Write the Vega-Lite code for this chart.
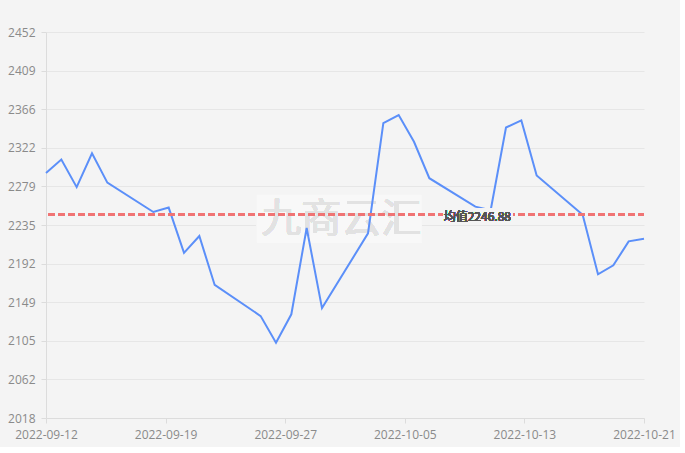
{
  "$schema": "https://vega.github.io/schema/vega-lite/v6.json",
  "width": 598,
  "height": 386,
  "autosize": {"type": "none"},
  "padding": {"left": 46, "top": 32, "right": 36, "bottom": 29},
  "background": "#f4f4f4",
  "config": {
    "view": {"stroke": null},
    "font": "Open Sans",
    "axis": {"labelFont": "Open Sans", "labelFontSize": 12, "labelColor": "#8a8a8a", "domainColor": "#dcdcdc", "tickColor": "#dcdcdc", "gridColor": "#e6e6e6", "title": null}
  },
  "data": {
    "values": [
      {"date": "2022-09-12", "price": 2294},
      {"date": "2022-09-13", "price": 2309},
      {"date": "2022-09-14", "price": 2278},
      {"date": "2022-09-15", "price": 2316},
      {"date": "2022-09-16", "price": 2283},
      {"date": "2022-09-19", "price": 2250},
      {"date": "2022-09-20", "price": 2255},
      {"date": "2022-09-21", "price": 2204},
      {"date": "2022-09-22", "price": 2223},
      {"date": "2022-09-23", "price": 2168},
      {"date": "2022-09-26", "price": 2133},
      {"date": "2022-09-27", "price": 2103},
      {"date": "2022-09-28", "price": 2135},
      {"date": "2022-09-29", "price": 2232},
      {"date": "2022-09-30", "price": 2142},
      {"date": "2022-10-03", "price": 2226},
      {"date": "2022-10-04", "price": 2350},
      {"date": "2022-10-05", "price": 2359},
      {"date": "2022-10-06", "price": 2329},
      {"date": "2022-10-07", "price": 2288},
      {"date": "2022-10-10", "price": 2256},
      {"date": "2022-10-11", "price": 2252},
      {"date": "2022-10-12", "price": 2345},
      {"date": "2022-10-13", "price": 2353},
      {"date": "2022-10-14", "price": 2291},
      {"date": "2022-10-17", "price": 2247},
      {"date": "2022-10-18", "price": 2180},
      {"date": "2022-10-19", "price": 2190},
      {"date": "2022-10-20", "price": 2217},
      {"date": "2022-10-21", "price": 2220}
    ]
  },
  "layer": [
    {
      "mark": {"type": "rect", "fill": "#f8f8f8", "strokeWidth": 0},
      "encoding": {
        "x": {"datum": {"year": 2022, "month": 9, "date": 25, "hours": 18, "utc": true}, "type": "temporal",
          "scale": {"type": "utc", "nice": false, "domain": [
            {"year": 2022, "month": 9, "date": 12, "utc": true},
            {"year": 2022, "month": 10, "date": 21, "utc": true}
          ]},
          "axis": {
            "format": "%Y-%m-%d", "grid": false,
            "tickSize": 5, "labelPadding": 6, "labelFlush": false, "labelOverlap": false,
            "values": [
              {"year": 2022, "month": 9, "date": 12, "utc": true},
              {"year": 2022, "month": 9, "date": 19, "hours": 19, "minutes": 12, "utc": true},
              {"year": 2022, "month": 9, "date": 27, "hours": 14, "minutes": 24, "utc": true},
              {"year": 2022, "month": 10, "date": 5, "hours": 9, "minutes": 36, "utc": true},
              {"year": 2022, "month": 10, "date": 13, "hours": 4, "minutes": 48, "utc": true},
              {"year": 2022, "month": 10, "date": 21, "utc": true}
            ]
          }},
        "x2": {"datum": {"year": 2022, "month": 10, "date": 6, "hours": 12, "utc": true}},
        "y": {"datum": 2269.5, "type": "quantitative", "scale": {"domain": [2018.4, 2452.4], "nice": false, "zero": false},
          "axis": {
            "values": [2018.4, 2061.8, 2105.2, 2148.6, 2192.0, 2235.4, 2278.8, 2322.2, 2365.6, 2409.0, 2452.4],
            "format": ".0f", "tickSize": 5, "labelPadding": 6, "grid": true, "labelFlush": false, "labelOverlap": false
          }},
        "y2": {"datum": 2215.5}
      }
    },
    {
      "mark": {"type": "text", "text": "九商云汇", "fontSize": 40, "color": "#e2e2e2", "align": "center", "baseline": "middle", "font": "Noto Sans CJK SC"},
      "encoding": {
        "x": {"datum": {"year": 2022, "month": 10, "date": 1, "hours": 6, "utc": true}, "type": "temporal",
          "scale": {"type": "utc", "nice": false, "domain": [
            {"year": 2022, "month": 9, "date": 12, "utc": true},
            {"year": 2022, "month": 10, "date": 21, "utc": true}
          ]},
          "axis": {
            "format": "%Y-%m-%d", "grid": false,
            "tickSize": 5, "labelPadding": 6, "labelFlush": false, "labelOverlap": false,
            "values": [
              {"year": 2022, "month": 9, "date": 12, "utc": true},
              {"year": 2022, "month": 9, "date": 19, "hours": 19, "minutes": 12, "utc": true},
              {"year": 2022, "month": 9, "date": 27, "hours": 14, "minutes": 24, "utc": true},
              {"year": 2022, "month": 10, "date": 5, "hours": 9, "minutes": 36, "utc": true},
              {"year": 2022, "month": 10, "date": 13, "hours": 4, "minutes": 48, "utc": true},
              {"year": 2022, "month": 10, "date": 21, "utc": true}
            ]
          }},
        "y": {"datum": 2241, "type": "quantitative", "scale": {"domain": [2018.4, 2452.4], "nice": false, "zero": false},
          "axis": {
            "values": [2018.4, 2061.8, 2105.2, 2148.6, 2192.0, 2235.4, 2278.8, 2322.2, 2365.6, 2409.0, 2452.4],
            "format": ".0f", "tickSize": 5, "labelPadding": 6, "grid": true, "labelFlush": false, "labelOverlap": false
          }}
      }
    },
    {
      "mark": {"type": "line", "color": "#5b8ff9", "strokeWidth": 2},
      "encoding": {
        "x": {
          "field": "date", "type": "temporal",
          "scale": {"type": "utc", "nice": false, "domain": [
            {"year": 2022, "month": 9, "date": 12, "utc": true},
            {"year": 2022, "month": 10, "date": 21, "utc": true}
          ]},
          "axis": {
            "format": "%Y-%m-%d", "grid": false,
            "tickSize": 5, "labelPadding": 6, "labelFlush": false, "labelOverlap": false,
            "values": [
              {"year": 2022, "month": 9, "date": 12, "utc": true},
              {"year": 2022, "month": 9, "date": 19, "hours": 19, "minutes": 12, "utc": true},
              {"year": 2022, "month": 9, "date": 27, "hours": 14, "minutes": 24, "utc": true},
              {"year": 2022, "month": 10, "date": 5, "hours": 9, "minutes": 36, "utc": true},
              {"year": 2022, "month": 10, "date": 13, "hours": 4, "minutes": 48, "utc": true},
              {"year": 2022, "month": 10, "date": 21, "utc": true}
            ]
          }
        },
        "y": {
          "field": "price", "type": "quantitative",
          "scale": {"domain": [2018.4, 2452.4], "nice": false, "zero": false},
          "axis": {
            "values": [2018.4, 2061.8, 2105.2, 2148.6, 2192.0, 2235.4, 2278.8, 2322.2, 2365.6, 2409.0, 2452.4],
            "format": ".0f", "tickSize": 5, "labelPadding": 6, "grid": true, "labelFlush": false, "labelOverlap": false
          }
        }
      }
    },
    {
      "mark": {"type": "rule", "color": "#f07474", "strokeWidth": 2, "strokeDash": [6, 4]},
      "encoding": {
        "y": {"datum": 2246.88, "type": "quantitative", "scale": {"domain": [2018.4, 2452.4], "nice": false, "zero": false},
          "axis": {
            "values": [2018.4, 2061.8, 2105.2, 2148.6, 2192.0, 2235.4, 2278.8, 2322.2, 2365.6, 2409.0, 2452.4],
            "format": ".0f", "tickSize": 5, "labelPadding": 6, "grid": true, "labelFlush": false, "labelOverlap": false
          }},
        "x": {"datum": {"year": 2022, "month": 9, "date": 12, "hours": 4, "utc": true}, "type": "temporal",
          "scale": {"type": "utc", "nice": false, "domain": [
            {"year": 2022, "month": 9, "date": 12, "utc": true},
            {"year": 2022, "month": 10, "date": 21, "utc": true}
          ]},
          "axis": {
            "format": "%Y-%m-%d", "grid": false,
            "tickSize": 5, "labelPadding": 6, "labelFlush": false, "labelOverlap": false,
            "values": [
              {"year": 2022, "month": 9, "date": 12, "utc": true},
              {"year": 2022, "month": 9, "date": 19, "hours": 19, "minutes": 12, "utc": true},
              {"year": 2022, "month": 9, "date": 27, "hours": 14, "minutes": 24, "utc": true},
              {"year": 2022, "month": 10, "date": 5, "hours": 9, "minutes": 36, "utc": true},
              {"year": 2022, "month": 10, "date": 13, "hours": 4, "minutes": 48, "utc": true},
              {"year": 2022, "month": 10, "date": 21, "utc": true}
            ]
          }},
        "x2": {"datum": {"year": 2022, "month": 10, "date": 21, "utc": true}}
      }
    },
    {
      "mark": {"type": "rect", "fill": "#f4f4f4", "strokeWidth": 0},
      "encoding": {
        "x": {"datum": {"year": 2022, "month": 10, "date": 7, "hours": 21, "minutes": 36, "utc": true}, "type": "temporal",
          "scale": {"type": "utc", "nice": false, "domain": [
            {"year": 2022, "month": 9, "date": 12, "utc": true},
            {"year": 2022, "month": 10, "date": 21, "utc": true}
          ]},
          "axis": {
            "format": "%Y-%m-%d", "grid": false,
            "tickSize": 5, "labelPadding": 6, "labelFlush": false, "labelOverlap": false,
            "values": [
              {"year": 2022, "month": 9, "date": 12, "utc": true},
              {"year": 2022, "month": 9, "date": 19, "hours": 19, "minutes": 12, "utc": true},
              {"year": 2022, "month": 9, "date": 27, "hours": 14, "minutes": 24, "utc": true},
              {"year": 2022, "month": 10, "date": 5, "hours": 9, "minutes": 36, "utc": true},
              {"year": 2022, "month": 10, "date": 13, "hours": 4, "minutes": 48, "utc": true},
              {"year": 2022, "month": 10, "date": 21, "utc": true}
            ]
          }},
        "x2": {"datum": {"year": 2022, "month": 10, "date": 12, "hours": 9, "minutes": 36, "utc": true}},
        "y": {"datum": 2254, "type": "quantitative", "scale": {"domain": [2018.4, 2452.4], "nice": false, "zero": false},
          "axis": {
            "values": [2018.4, 2061.8, 2105.2, 2148.6, 2192.0, 2235.4, 2278.8, 2322.2, 2365.6, 2409.0, 2452.4],
            "format": ".0f", "tickSize": 5, "labelPadding": 6, "grid": true, "labelFlush": false, "labelOverlap": false
          }},
        "y2": {"datum": 2239.5}
      }
    },
    {
      "mark": {"type": "text", "text": "均值2246.88", "fontSize": 12, "color": "#555555", "align": "center", "baseline": "middle", "dx": 2, "dy": 2, "font": "Noto Sans CJK SC"},
      "encoding": {
        "y": {"datum": 2246.88, "type": "quantitative", "scale": {"domain": [2018.4, 2452.4], "nice": false, "zero": false},
          "axis": {
            "values": [2018.4, 2061.8, 2105.2, 2148.6, 2192.0, 2235.4, 2278.8, 2322.2, 2365.6, 2409.0, 2452.4],
            "format": ".0f", "tickSize": 5, "labelPadding": 6, "grid": true, "labelFlush": false, "labelOverlap": false
          }},
        "x": {"datum": {"year": 2022, "month": 10, "date": 10, "utc": true}, "type": "temporal",
          "scale": {"type": "utc", "nice": false, "domain": [
            {"year": 2022, "month": 9, "date": 12, "utc": true},
            {"year": 2022, "month": 10, "date": 21, "utc": true}
          ]},
          "axis": {
            "format": "%Y-%m-%d", "grid": false,
            "tickSize": 5, "labelPadding": 6, "labelFlush": false, "labelOverlap": false,
            "values": [
              {"year": 2022, "month": 9, "date": 12, "utc": true},
              {"year": 2022, "month": 9, "date": 19, "hours": 19, "minutes": 12, "utc": true},
              {"year": 2022, "month": 9, "date": 27, "hours": 14, "minutes": 24, "utc": true},
              {"year": 2022, "month": 10, "date": 5, "hours": 9, "minutes": 36, "utc": true},
              {"year": 2022, "month": 10, "date": 13, "hours": 4, "minutes": 48, "utc": true},
              {"year": 2022, "month": 10, "date": 21, "utc": true}
            ]
          }}
      }
    }
  ]
}
